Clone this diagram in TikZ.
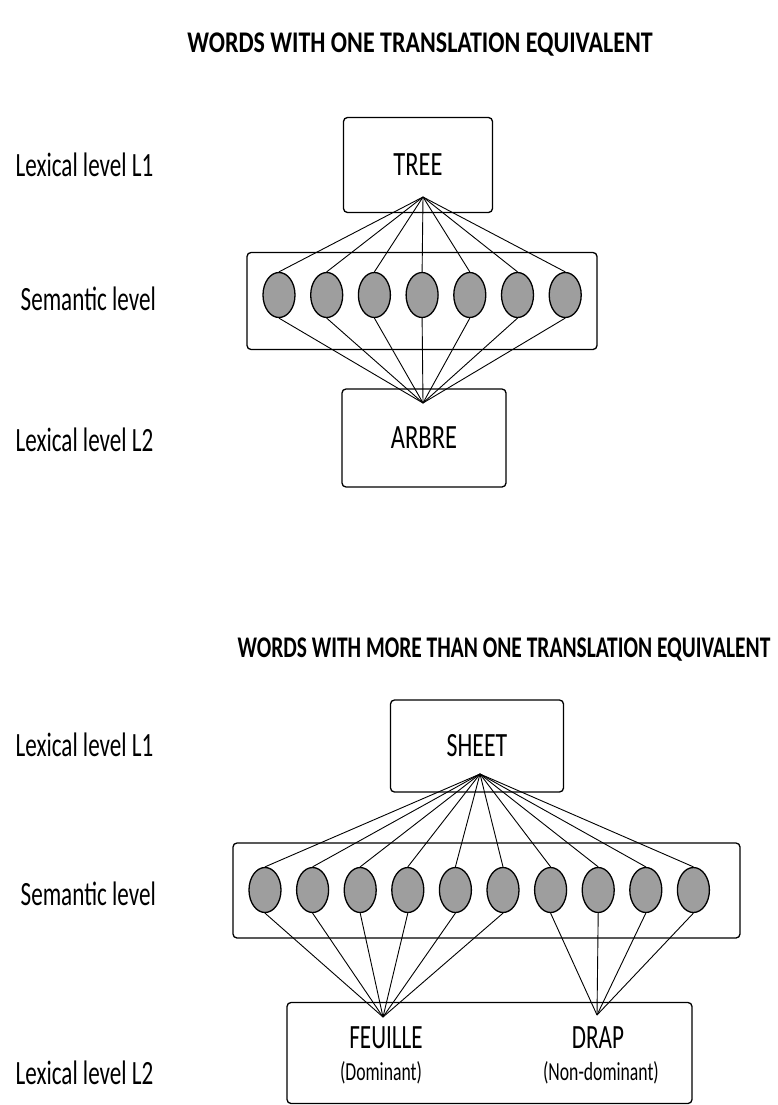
\documentclass[tikz,border=0pt]{standalone}
\usepackage{graphicx}
\usepackage{fontspec}
\setmainfont{Carlito}
\usetikzlibrary{calc,positioning,shapes.geometric}
\definecolor{grey}{gray}{0.62}
\newcommand{\squeeze}[2][0.68]{\scalebox{#1}[1]{#2}}

\begin{document}
\begin{tikzpicture}[x=1pt,y=-1pt,line width=1.3pt]

\tikzset{wordbox/.style={draw,rounded corners=4pt,inner sep=0pt,font=\fontsize{34}{34}\selectfont},
semnode/.style={shape=ellipse,draw,fill=grey,inner sep=0pt,minimum width=32pt,minimum height=45pt},
levellabel/.style={anchor=west,inner sep=0pt,font=\fontsize{34}{34}\selectfont},
heading/.style={inner sep=0pt,font=\bfseries\fontsize{30}{30}\selectfont},
link/.style={line width=0.9pt}}

\useasboundingbox (0,0) rectangle (777,1105);

% Titles
\node[heading] (titleOne) at (420,45) {\squeeze[0.8]{WORDS WITH ONE TRANSLATION EQUIVALENT}};
\node[heading] (titleMore) at (504,650) {\squeeze[0.715]{WORDS WITH MORE THAN ONE TRANSLATION EQUIVALENT}};

% Level labels, top
\node[levellabel] (lexOneA) at (15,165) {\squeeze{Lexical level L1}};
\node[levellabel] (semA) at (20,299) {\squeeze{Semantic level}};
\node[levellabel] (lexTwoA) at (15,440) {\squeeze{Lexical level L2}};

% Level labels, bottom
\node[levellabel] (lexOneB) at (15,745) {\squeeze{Lexical level L1}};
\node[levellabel] (semB) at (20,894) {\squeeze{Semantic level}};
\node[levellabel] (lexTwoB) at (15,1073) {\squeeze{Lexical level L2}};

% Top boxes
\node[wordbox,minimum width=149pt,minimum height=95pt] (tree) at (418,165) {\squeeze[0.72]{TREE}};
\node[wordbox,minimum width=350pt,minimum height=97pt] (semBoxA) at (422,301) {};
\node[wordbox,minimum width=164pt,minimum height=98pt] (arbre) at (424,438) {\squeeze[0.72]{ARBRE}};
\coordinate (treeTip) at (423,197);
\coordinate (arbreTip) at (423,403);

% Top semantic nodes
\foreach \i in {1,...,7} \node[semnode] (a\i) at (279+47.7*\i-47.7,295) {};
\foreach \i in {1,...,7} {\draw[link] (treeTip) -- (a\i.north); \draw[link] (a\i.south) -- (arbreTip);}

% Bottom boxes
\node[wordbox,minimum width=173pt,minimum height=92pt] (sheet) at (477,746) {\squeeze[0.7]{SHEET}};
\node[wordbox,minimum width=507pt,minimum height=95pt] (semBoxB) at (486.5,890.5) {};
\node[wordbox,minimum width=405pt,minimum height=101pt] (lexBoxB) at (489.5,1053) {};
\node[font=\fontsize{34}{34}\selectfont,inner sep=0pt] (feuille) at (386,1038) {\squeeze{FEUILLE}};
\node[font=\fontsize{26}{26}\selectfont,inner sep=0pt] (dominant) at (381,1073) {\squeeze{(Dominant)}};
\node[font=\fontsize{34}{34}\selectfont,inner sep=0pt] (drap) at (598,1038) {\squeeze{DRAP}};
\node[font=\fontsize{26}{26}\selectfont,inner sep=0pt] (nondominant) at (601,1073) {\squeeze{(Non-dominant)}};
\coordinate (sheetTip) at (480,774);
\coordinate (feuilleTip) at (383,1017);
\coordinate (drapTip) at (597,1015);

% Bottom semantic nodes
\foreach \i in {1,...,10} \node[semnode] (b\i) at (265+47.6*\i-47.6,890) {};
\foreach \i in {1,...,10} \draw[link] (sheetTip) -- (b\i.north);
\foreach \i in {1,...,6} \draw[link] (b\i.south) -- (feuilleTip);
\foreach \i in {7,...,10} \draw[link] (b\i.south) -- (drapTip);

\end{tikzpicture}
\end{document}
